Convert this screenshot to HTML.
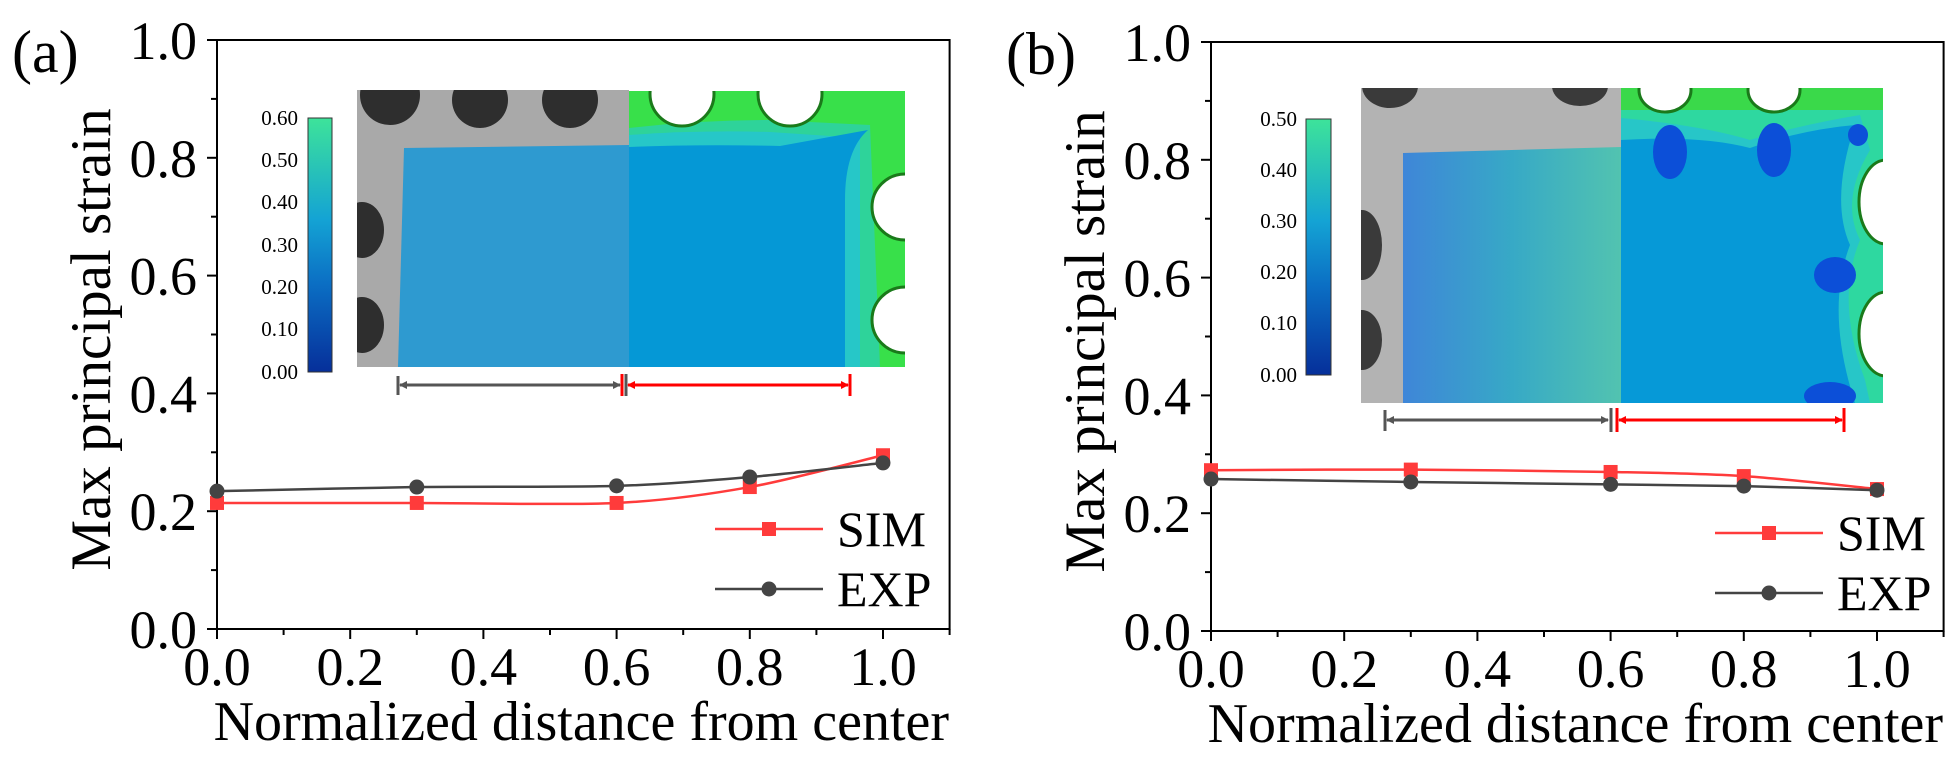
<!DOCTYPE html>
<html><head><meta charset="utf-8">
<style>
html,body{margin:0;padding:0;background:#fff;}
svg{display:block;}
svg text{font-family:"Liberation Serif",serif !important;fill:#000;}
</style></head>
<body>
<svg id="fig" width="1957" height="771" viewBox="0 0 1957 771" xmlns="http://www.w3.org/2000/svg" font-family="Liberation Serif, serif">
<defs>
  <linearGradient id="cbA" x1="0" y1="1" x2="0" y2="0">
    <stop offset="0" stop-color="#062f9a"/><stop offset="0.35" stop-color="#0b6fc4"/>
    <stop offset="0.6" stop-color="#14a3d4"/><stop offset="1" stop-color="#3de39a"/>
  </linearGradient>
  <linearGradient id="dicB" x1="0" y1="0" x2="1" y2="0">
    <stop offset="0" stop-color="#3f86d8"/><stop offset="0.5" stop-color="#37a9c6"/><stop offset="1" stop-color="#52c3b0"/>
  </linearGradient>
  <clipPath id="clipA"><rect x="629" y="91" width="276" height="276"/></clipPath>
  <clipPath id="clipB"><rect x="1621" y="88" width="262" height="315"/></clipPath>
  <clipPath id="clipAL"><rect x="357" y="90" width="272" height="277"/></clipPath>
  <clipPath id="clipBL"><rect x="1361" y="88" width="260" height="315"/></clipPath>
  <marker id="agr" markerWidth="8" markerHeight="8" refX="7" refY="4" orient="auto-start-reverse" markerUnits="userSpaceOnUse"><path d="M0,0 L8,4 L0,8 z" fill="#555"/></marker>
  <marker id="ard" markerWidth="8" markerHeight="8" refX="7" refY="4" orient="auto-start-reverse" markerUnits="userSpaceOnUse"><path d="M0,0 L8,4 L0,8 z" fill="#f00"/></marker>
</defs>

<!-- Inset A -->
<g>
  <g clip-path="url(#clipAL)">
  <rect x="357" y="90" width="272" height="277" fill="#a9a9a9"/>
  <circle cx="390" cy="95" r="30" fill="#2e2e2e"/><circle cx="480" cy="100" r="28" fill="#2e2e2e"/><circle cx="570" cy="100" r="28" fill="#2e2e2e"/>
  <ellipse cx="362" cy="230" rx="22" ry="28" fill="#2e2e2e"/><ellipse cx="362" cy="325" rx="22" ry="28" fill="#2e2e2e"/>
  <polygon points="404,148 629,145 629,367 398,367" fill="#2e9ad0"/>
  </g>
  <g clip-path="url(#clipA)">
    <rect x="629" y="91" width="276" height="276" fill="#38e04a"/>
    <path d="M629,128 Q700,120 770,120 L870,125 L880,367 L629,367Z" fill="#2ed39a"/>
    <path d="M629,135 Q700,130 770,132 L860,138 L860,367 L629,367Z" fill="#26c7c8"/>
    <path d="M629,147 Q700,144 780,146 L868,130 Q845,150 845,200 L845,367 L629,367Z" fill="#0598d6"/>
    <circle cx="682" cy="94" r="32" fill="#fff" stroke="#1a7a1a" stroke-width="3"/>
    <circle cx="790" cy="94" r="32" fill="#fff" stroke="#1a7a1a" stroke-width="3"/>
    <circle cx="905" cy="207" r="33" fill="#fff" stroke="#1a7a1a" stroke-width="3"/>
    <circle cx="905" cy="320" r="33" fill="#fff" stroke="#1a7a1a" stroke-width="3"/>
  </g>
  <rect x="308" y="118" width="24" height="254" fill="url(#cbA)" stroke="#333" stroke-width="1"/>
</g>
<g font-size="21" text-anchor="end">
  <text x="298" y="125">0.60</text><text x="298" y="167">0.50</text><text x="298" y="209">0.40</text>
  <text x="298" y="252">0.30</text><text x="298" y="294">0.20</text><text x="298" y="336">0.10</text><text x="298" y="379">0.00</text>
</g>
<g stroke-width="3">
  <line x1="398" y1="376" x2="398" y2="395" stroke="#555"/>
  <line x1="400" y1="385" x2="620" y2="385" stroke="#555" marker-start="url(#agr)" marker-end="url(#agr)"/>
  <line x1="622" y1="374" x2="622" y2="396" stroke="#f00"/>
  <line x1="626" y1="374" x2="626" y2="396" stroke="#555"/>
  <line x1="628" y1="385" x2="848" y2="385" stroke="#f00" marker-start="url(#ard)" marker-end="url(#ard)"/>
  <line x1="850" y1="374" x2="850" y2="396" stroke="#f00"/>
</g>

<!-- Inset B -->
<g>
  <g clip-path="url(#clipBL)">
  <rect x="1361" y="88" width="260" height="315" fill="#b3b3b3"/>
  <ellipse cx="1390" cy="86" rx="28" ry="22" fill="#3a3a3a"/><ellipse cx="1580" cy="86" rx="28" ry="20" fill="#3a3a3a"/>
  <ellipse cx="1362" cy="245" rx="20" ry="35" fill="#3a3a3a"/><ellipse cx="1362" cy="340" rx="20" ry="30" fill="#3a3a3a"/>
  <polygon points="1403,153 1621,147 1621,403 1403,403" fill="url(#dicB)"/>
  </g>
  <g clip-path="url(#clipB)">
    <rect x="1621" y="88" width="262" height="315" fill="#3ad94a"/>
    <path d="M1621,110 L1883,110 L1883,403 L1621,403Z" fill="#2ed8a0"/>
    <path d="M1621,118 Q1700,125 1750,140 Q1800,125 1860,115 L1870,150 Q1840,200 1860,240 Q1835,300 1865,380 L1870,403 L1621,403Z" fill="#27c6c8"/>
    <path d="M1621,140 Q1700,135 1750,148 Q1800,130 1855,125 Q1830,200 1850,245 Q1825,310 1855,403 L1621,403Z" fill="#0699d7"/>
    <ellipse cx="1670" cy="152" rx="17" ry="27" fill="#0c4fd8"/><ellipse cx="1774" cy="150" rx="17" ry="27" fill="#0c4fd8"/>
    <ellipse cx="1858" cy="135" rx="10" ry="11" fill="#0c4fd8"/><ellipse cx="1835" cy="275" rx="21" ry="18" fill="#0c4fd8"/>
    <ellipse cx="1830" cy="396" rx="26" ry="14" fill="#0c4fd8"/>
    <ellipse cx="1665" cy="90" rx="26" ry="22" fill="#fff" stroke="#1a7a1a" stroke-width="3"/>
    <ellipse cx="1774" cy="90" rx="26" ry="22" fill="#fff" stroke="#1a7a1a" stroke-width="3"/>
    <ellipse cx="1886" cy="202" rx="27" ry="42" fill="#fff" stroke="#1a7a1a" stroke-width="3"/>
    <ellipse cx="1886" cy="334" rx="27" ry="42" fill="#fff" stroke="#1a7a1a" stroke-width="3"/>
  </g>
  <rect x="1306" y="119" width="25" height="256" fill="url(#cbA)" stroke="#333" stroke-width="1"/>
</g>
<g font-size="21" text-anchor="end">
  <text x="1297" y="126">0.50</text><text x="1297" y="177">0.40</text><text x="1297" y="228">0.30</text>
  <text x="1297" y="279">0.20</text><text x="1297" y="330">0.10</text><text x="1297" y="382">0.00</text>
</g>
<g stroke-width="3">
  <line x1="1385" y1="410" x2="1385" y2="431" stroke="#555"/>
  <line x1="1387" y1="420" x2="1608" y2="420" stroke="#555" marker-start="url(#agr)" marker-end="url(#agr)"/>
  <line x1="1611" y1="408" x2="1611" y2="432" stroke="#555"/>
  <line x1="1617" y1="408" x2="1617" y2="432" stroke="#f00"/>
  <line x1="1619" y1="420" x2="1842" y2="420" stroke="#f00" marker-start="url(#ard)" marker-end="url(#ard)"/>
  <line x1="1844" y1="408" x2="1844" y2="432" stroke="#f00"/>
</g>

<g id="chartA"></g>
<g id="chartB"></g>
</svg>

<script>
const xValues = [0, 0.3, 0.6, 0.8, 1.0];
const simA = [0.214, 0.214, 0.214, 0.241, 0.295];
const expA = [0.234, 0.241, 0.243, 0.258, 0.282];
const simB = [0.273, 0.274, 0.270, 0.263, 0.241];
const expB = [0.258, 0.253, 0.249, 0.246, 0.239];
const xTickLabels = ["0.0", "0.2", "0.4", "0.6", "0.8", "1.0"];
const yTickLabels = ["0.0", "0.2", "0.4", "0.6", "0.8", "1.0"];
const seriesNames = ["SIM", "EXP"];
const panelLabels = ["(a)", "(b)"];

const NS = "http://www.w3.org/2000/svg";
function mk(parent, tag, attrs, txt) {
  const e = document.createElementNS(NS, tag);
  for (const k in attrs) e.setAttribute(k, attrs[k]);
  if (tag === "text") e.setAttribute("font-family", "Liberation Serif, serif");
  if (txt !== undefined) e.textContent = txt;
  parent.appendChild(e);
  return e;
}
function smoothPath(pts) {
  let d = "M" + pts[0][0] + "," + pts[0][1];
  for (let i = 0; i < pts.length - 1; i++) {
    const p0 = pts[Math.max(0, i - 1)], p1 = pts[i], p2 = pts[i + 1], p3 = pts[Math.min(pts.length - 1, i + 2)];
    const t = 0.15;
    const c1 = [p1[0] + (p2[0] - p0[0]) * t, p1[1] + (p2[1] - p0[1]) * t];
    const c2 = [p2[0] - (p3[0] - p1[0]) * t, p2[1] - (p3[1] - p1[1]) * t];
    d += " C" + c1[0] + "," + c1[1] + " " + c2[0] + "," + c2[1] + " " + p2[0] + "," + p2[1];
  }
  return d;
}
function drawPanel(g, o, sim, exp, label) {
  const xS = v => o.x0 + v * o.xu;
  const yS = v => o.y0 - v * o.yu;
  const right = xS(1.1), top = yS(1.0);
  const frame = mk(g, "rect", {x: o.x0, y: top, width: right - o.x0, height: o.y0 - top, fill: "none", stroke: "#000", "stroke-width": 2});
  
  
  for (let i = 0; i <= 11; i++) {
    const v = i * 0.1, x = xS(v);
    const t = mk(g, "line", {x1: x, y1: o.y0, x2: x, y2: o.y0 + (i % 2 === 0 ? 10 : 6), stroke: "#000", "stroke-width": 2});
    
    
  }
  xTickLabels.forEach((s, i) => {
    const t = mk(g, "text", {x: xS(i * 0.2), y: o.y0 + 56, "font-size": 54, "text-anchor": "middle"}, s);
    
    
  });
  for (let i = 0; i <= 10; i++) {
    const y = yS(i * 0.1);
    const t = mk(g, "line", {x1: o.x0, y1: y, x2: o.x0 - (i % 2 === 0 ? 10 : 6), y2: y, stroke: "#000", "stroke-width": 2});
    
    
  }
  yTickLabels.forEach((s, i) => {
    const t = mk(g, "text", {x: o.x0 - 20, y: yS(i * 0.2) + 19, "font-size": 54, "text-anchor": "end"}, s);
    
    
  });
  const xt = mk(g, "text", {x: (o.x0 + right) / 2 - 2, y: o.y0 + 111, "font-size": 56, "text-anchor": "middle"}, "Normalized distance from center");
  
  
  const yt = mk(g, "text", {x: 0, y: 0, "font-size": 57, "text-anchor": "middle", transform: "translate(" + (o.x0 - 107) + "," + ((top + o.y0) / 2 + 5) + ") rotate(-90)"}, "Max principal strain");
  
  
  const pl = mk(g, "text", {x: o.x0 - 205, y: top + 32, "font-size": 60}, label);
  
  
  const series = [[sim, "#ff3b3b", "sq"], [exp, "#444", "ci"]];
  series.forEach(([vals, col, mkType], si) => {
    const pts = vals.map((v, i) => [xS(xValues[i]), yS(v)]);
    const p = mk(g, "path", {d: smoothPath(pts), fill: "none", stroke: col, "stroke-width": 2.5});
    
    
    pts.forEach(([x, y]) => {
      let m;
      if (mkType === "sq") m = mk(g, "rect", {x: x - 7, y: y - 7, width: 14, height: 14, fill: col});
      else m = mk(g, "circle", {cx: x, cy: y, r: 7.5, fill: col});
      
      
    });
    const ly = o.legY + si * 60;
    const ll = mk(g, "line", {x1: o.legX, y1: ly, x2: o.legX + 108, y2: ly, stroke: col, "stroke-width": 2.5});
    
    
    let lm;
    if (mkType === "sq") lm = mk(g, "rect", {x: o.legX + 47, y: ly - 7, width: 14, height: 14, fill: col});
    else lm = mk(g, "circle", {cx: o.legX + 54, cy: ly, r: 7.5, fill: col});
    
    
    const lt = mk(g, "text", {x: o.legX + 122, y: ly + 17, "font-size": 50}, seriesNames[si]);
    
    
  });
}
drawPanel(document.getElementById("chartA"), {x0: 217, xu: 666, y0: 629, yu: 589, legX: 715, legY: 529}, simA, expA, panelLabels[0]);
drawPanel(document.getElementById("chartB"), {x0: 1211, xu: 666, y0: 631, yu: 589, legX: 1715, legY: 533}, simB, expB, panelLabels[1]);
</script>
</body></html>
